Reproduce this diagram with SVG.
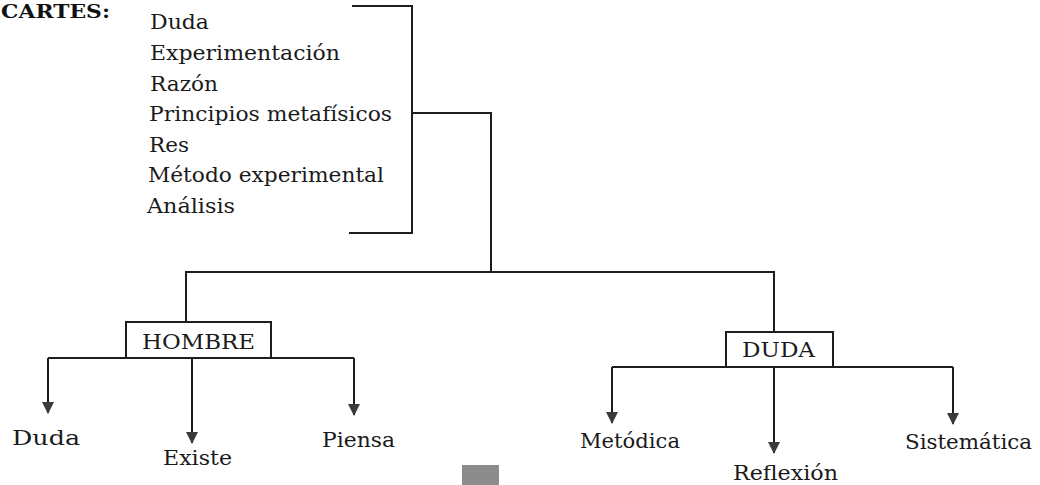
<svg xmlns="http://www.w3.org/2000/svg" width="1040" height="485" viewBox="0 0 1040 485">
<defs>
<style>
.t{font-family:"DejaVu Serif","Liberation Serif",serif;font-size:20px;fill:#1a1a1a}
.b{font-family:"DejaVu Serif","Liberation Serif",serif;font-size:21px;fill:#1a1a1a}
.ttl{font-family:"DejaVu Serif","Liberation Serif",serif;font-size:18px;font-weight:bold;fill:#111}
.ln{stroke:#1e1e1e;stroke-width:2;fill:none}
.box{stroke:#1e1e1e;stroke-width:2;fill:#fff}
</style>
<marker id="ah" viewBox="0 0 12 12" refX="11" refY="6" markerWidth="12" markerHeight="12" markerUnits="userSpaceOnUse" orient="auto">
<path d="M0,0 L12,6 L0,12 Z" fill="#3a3a3a"/>
</marker>
</defs>
<rect width="1040" height="485" fill="#fff"/>
<text class="ttl" x="1" y="17.5" textLength="109" lengthAdjust="spacingAndGlyphs">CARTES:</text>
<g id="list">
<text class="t" x="150" y="29" textLength="59" lengthAdjust="spacingAndGlyphs">Duda</text>
<text class="t" x="150" y="60" textLength="190" lengthAdjust="spacingAndGlyphs">Experimentación</text>
<text class="t" x="150" y="90.5" textLength="68" lengthAdjust="spacingAndGlyphs">Razón</text>
<text class="t" x="149" y="121" textLength="243" lengthAdjust="spacingAndGlyphs">Principios metafísicos</text>
<text class="t" x="149" y="151.5" textLength="40" lengthAdjust="spacingAndGlyphs">Res</text>
<text class="t" x="148" y="182" textLength="236" lengthAdjust="spacingAndGlyphs">Método experimental</text>
<text class="t" x="147" y="212.5" textLength="88" lengthAdjust="spacingAndGlyphs">Análisis</text>
</g>
<g id="connectors">
<path class="ln" d="M352,6 H412 V233 H349"/>
<path class="ln" d="M412,113 H491 V272"/>
<path class="ln" d="M186,322 V272 H774 V332"/>
<path class="ln" d="M48,358 H354"/>
<path class="ln" d="M48,358 V413" marker-end="url(#ah)"/>
<path class="ln" d="M192,358 V443" marker-end="url(#ah)"/>
<path class="ln" d="M354,358 V415" marker-end="url(#ah)"/>
<path class="ln" d="M612,367 H953"/>
<path class="ln" d="M612,367 V423" marker-end="url(#ah)"/>
<path class="ln" d="M774,367 V453" marker-end="url(#ah)"/>
<path class="ln" d="M953,367 V424" marker-end="url(#ah)"/>
</g>
<g id="hombre">
<rect class="box" x="126" y="322" width="145" height="36"/>
<text class="t" x="198.5" y="349" text-anchor="middle" textLength="113" lengthAdjust="spacingAndGlyphs">HOMBRE</text>
</g>
<g id="duda">
<rect class="box" x="726" y="332" width="107" height="35"/>
<text class="t" x="778.5" y="357" text-anchor="middle" textLength="73" lengthAdjust="spacingAndGlyphs">DUDA</text>
</g>
<g id="n-duda"><text class="b" x="12" y="445" textLength="68" lengthAdjust="spacingAndGlyphs">Duda</text></g>
<g id="n-existe"><text class="b" x="163" y="465" textLength="69" lengthAdjust="spacingAndGlyphs">Existe</text></g>
<g id="n-piensa"><text class="b" x="322" y="447" textLength="73" lengthAdjust="spacingAndGlyphs">Piensa</text></g>
<g id="n-metodica"><text class="b" x="580" y="448" textLength="100" lengthAdjust="spacingAndGlyphs">Metódica</text></g>
<g id="n-reflexion"><text class="b" x="733" y="480" textLength="105" lengthAdjust="spacingAndGlyphs">Reflexión</text></g>
<g id="n-sistematica"><text class="b" x="905" y="449" textLength="127" lengthAdjust="spacingAndGlyphs">Sistemática</text></g>
<rect x="462" y="465" width="37" height="20" fill="#8c8c8c"/>
</svg>
